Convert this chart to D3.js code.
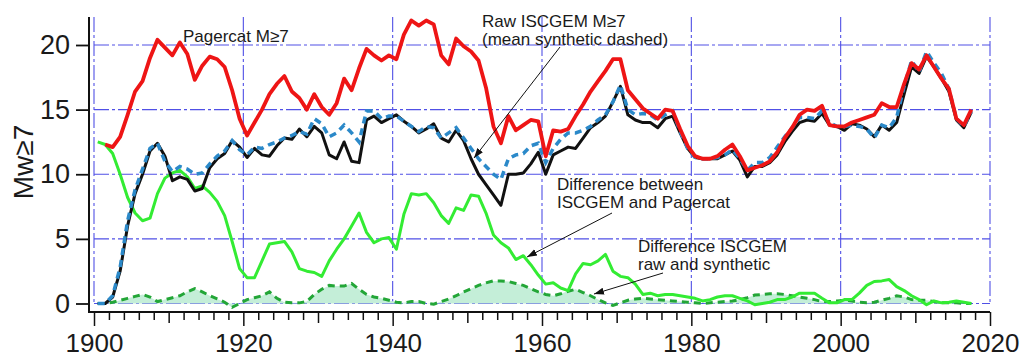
<!DOCTYPE html>
<html>
<head>
<meta charset="utf-8">
<script src="https://d3js.org/d3.v7.min.js"></script>
<style>
  html, body { margin: 0; padding: 0; background: #fff; }
  svg { display: block; font-family: "Liberation Sans", Arial, Helvetica, sans-serif; }
</style>
</head>
<body>
<div id="chart"></div>
<script>
// --------------- Data ---------------
const years = d3.range(1900, 2018);

const pagercat = [
  null, 12.3, 12.1, 12.9, 14.6, 16.4, 17.2, 19.0, 20.4, 19.8,
  19.2, 20.2, 19.3, 17.3, 18.4, 19.1, 18.9, 18.3, 16.5, 14.3,
  13.0, 14.0, 15.0, 16.2, 17.0, 17.6, 16.4, 15.9, 15.0, 16.2,
  15.2, 14.6, 15.5, 17.4, 16.5, 18.2, 19.7, 19.2, 18.8, 19.2,
  18.9, 20.8, 21.9, 21.5, 21.9, 21.6, 19.2, 18.5, 20.5, 19.9,
  19.5, 18.8, 16.7, 13.7, 12.4, 14.5, 13.4, 13.8, 14.2, 14.1,
  11.4, 13.4, 13.3, 13.5, 14.5, 15.4, 16.4, 17.2, 18.0, 18.9,
  18.9, 16.5, 15.8, 15.1, 14.7, 14.3, 15.0, 14.9, 13.5, 12.2,
  11.4, 11.2, 11.2, 11.4, 11.9, 12.3, 11.4, 10.3, 10.5, 10.7,
  11.0, 11.7, 12.8, 13.6, 14.6, 15.0, 14.9, 15.3, 13.8, 13.7,
  13.7, 14.0, 14.2, 14.4, 14.6, 15.5, 15.2, 15.2, 17.0, 18.6,
  18.1, 19.2, 18.3, 17.4, 16.6, 14.3, 13.8, 15.0
];

const iscgemRaw = [
  0.0, 0.0, 0.5, 2.5, 6.0, 8.5, 10.0, 11.8, 12.4, 11.4,
  9.5, 9.8, 9.6, 8.7, 8.9, 10.5, 11.2, 11.6, 12.6, 12.1,
  11.3, 12.0, 11.5, 11.4, 12.2, 12.8, 12.7, 13.5, 12.9, 13.7,
  13.2, 11.5, 11.2, 12.5, 11.0, 10.9, 14.2, 14.5, 14.0, 14.3,
  14.6, 14.1, 13.7, 13.2, 13.5, 13.9, 12.8, 12.5, 13.4, 12.6,
  11.2, 10.0, 9.2, 8.4, 7.6, 10.0, 10.0, 10.1, 10.8, 11.7,
  10.0, 11.5, 11.8, 12.1, 12.0, 12.8, 13.6, 14.0, 14.5, 15.6,
  16.8, 14.6, 14.2, 14.0, 14.0, 13.6, 14.3, 14.5, 13.2, 12.0,
  11.3, 11.2, 11.2, 11.2, 11.5, 11.8, 11.1, 9.8, 10.6, 10.6,
  10.9, 11.5, 12.5, 13.3, 14.0, 14.2, 14.1, 14.7, 13.8, 13.7,
  13.4, 13.9, 13.8, 13.5, 12.9, 13.8, 13.4, 14.0, 16.2, 18.3,
  17.8, 19.1, 18.3, 17.4, 16.4, 14.2, 13.6, 14.8
];

const iscgemSynth = [
  0.0, 0.0, 0.6, 2.8, 6.4, 8.8, 10.4, 12.0, 12.4, 11.0,
  10.2, 10.6, 10.4, 10.0, 10.1, 10.8, 11.4, 11.8, 12.6, 11.9,
  11.5, 12.1, 12.0, 12.3, 12.5, 12.8, 13.0, 13.3, 13.1, 14.3,
  13.9, 12.9, 13.2, 13.8, 13.2, 12.5, 14.9, 14.9, 14.3, 14.5,
  14.5, 14.1, 13.7, 13.3, 13.7, 13.6, 12.8, 13.2, 13.6, 12.8,
  12.0, 11.2, 10.6, 10.0, 9.6, 11.2, 11.5, 11.6, 12.2, 12.4,
  10.9, 12.0, 12.7, 13.2, 13.2, 13.4, 13.7, 14.2, 14.6, 15.6,
  16.9, 15.0, 14.6, 14.7, 14.6, 14.2, 14.6, 14.9, 13.3, 12.0,
  11.3, 11.2, 11.2, 11.3, 11.5, 11.9, 11.2, 10.3, 10.9, 10.9,
  11.3, 12.1, 12.9, 13.6, 14.4, 14.4, 14.3, 14.9, 14.0, 13.7,
  13.7, 13.8, 13.7, 13.5, 12.8, 13.8, 13.6, 14.4, 16.8, 18.8,
  17.9, 19.5, 18.6, 17.8, 16.6, 14.3, 13.7, 14.9
];

const diffPagercat = [
  12.5, 12.3, 11.6, 10.0, 8.2, 7.0, 6.4, 6.6, 8.5, 9.7,
  10.1, 10.3, 9.8, 8.9, 9.1, 8.6, 7.9, 6.8, 4.8, 2.7,
  2.0, 2.0, 3.3, 4.6, 4.7, 4.8, 4.0, 2.7, 2.5, 2.4,
  2.1, 3.3, 4.2, 5.0, 6.0, 7.0, 5.5, 4.7, 5.0, 5.1,
  4.2, 6.9, 8.5, 8.4, 8.5, 7.8, 6.8, 6.2, 7.4, 7.2,
  8.4, 8.3, 7.0, 5.3, 4.7, 4.3, 3.4, 3.7, 3.0, 2.2,
  1.5, 1.6, 1.2, 1.0, 2.3, 3.1, 3.0, 3.3, 3.8, 2.5,
  2.1, 2.0, 1.5, 0.7, 0.8, 0.6, 0.7, 0.7, 0.6, 0.5,
  0.4, 0.2, 0.3, 0.5, 0.6, 0.6, 0.4, 0.2, -0.1, 0.0,
  0.1, 0.3, 0.3, 0.5, 0.8, 0.8, 0.8, 0.4, 0.05, 0.05,
  0.3, 0.3, 0.8, 1.4, 1.7, 1.75, 1.85, 1.3, 1.0, 0.6,
  0.3, -0.1, 0.2, 0.05, 0.1, 0.2, 0.1, 0.0
];

const diffSynth = [
  0.0, 0.0, 0.1, 0.25, 0.4, 0.55, 0.7, 0.5, 0.15, 0.3,
  0.45, 0.6, 0.9, 1.15, 0.9, 0.6, 0.35, 0.1, -0.3, 0.0,
  0.3, 0.45, 0.6, 0.9, 0.4, 0.1, 0.05, 0.05, 0.15, 0.7,
  1.1, 1.4, 1.35, 1.35, 1.55, 1.1, 0.7, 0.5, 0.4, 0.25,
  0.1, 0.05, 0.15, 0.15, 0.0, -0.05, 0.15, 0.35, 0.6, 0.9,
  1.15, 1.4, 1.6, 1.75, 1.75, 1.7, 1.55, 1.4, 1.15, 0.9,
  0.7, 0.6, 0.75, 0.95, 1.1, 0.85, 0.6, 0.3, 0.05, -0.15,
  0.05, 0.25, 0.35, 0.4, 0.35, 0.3, 0.25, 0.2, 0.15, 0.1,
  0.05, 0.0, 0.05, 0.1, 0.15, 0.2, 0.3, 0.45, 0.65, 0.7,
  0.75, 0.75, 0.7, 0.6, 0.5, 0.4, 0.3, 0.15, 0.15, 0.2,
  0.25, 0.2, 0.1, 0.05, 0.1, 0.25, 0.4, 0.6, 0.5, 0.3,
  0.25, 0.25, 0.15, 0.05, 0.05, 0.05, 0.0, 0.0
];

const yTicks = [0, 5, 10, 15, 20];
const xTickLabels = [1900, 1920, 1940, 1960, 1980, 2000, 2020];
const xMinorTicks = d3.range(1900, 2021, 2);

// --------------- Constants ---------------
const WIDTH = 1024;
const HEIGHT = 358;
const AXIS_X = 89;
const AXIS_Y = 312;
const AXIS_TOP = 17;

const RED = "#ee1515";
const BLACK = "#111111";
const BLUE = "#2b89c9";
const LIME = "#33ec33";
const DARK_GREEN = "#23a637";
const FILL_GREEN = "#c4eed8";
const GRID = "#5050e6";

const svg = d3
  .select("#chart")
  .append("svg")
  .attr("width", WIDTH)
  .attr("height", HEIGHT);

const x = d3.scaleLinear().domain([1900, 2020]).range([94, 990]);
const y = d3.scaleLinear().domain([0, 20]).range([303.5, 45]);

// points sit at the middle of each year
const xAt = (i) => x(years[i] + 0.5);

function renderGrid() {
  const g = svg.append("g")
    .attr("stroke", GRID)
    .attr("stroke-width", 1.1)
    .attr("stroke-dasharray", "15,3,3,3");

  g.selectAll("line.h")
    .data(yTicks)
    .enter()
    .append("line")
    .attr("class", "h")
    .attr("x1", x(1900))
    .attr("x2", x(2020))
    .attr("y1", (d) => y(d))
    .attr("y2", (d) => y(d));

  g.selectAll("line.v")
    .data(xTickLabels)
    .enter()
    .append("line")
    .attr("class", "v")
    .attr("x1", (d) => x(d))
    .attr("x2", (d) => x(d))
    .attr("y1", AXIS_TOP)
    .attr("y2", y(0));
}

function renderAxes() {
  // left axis
  const left = svg.append("g")
    .attr("transform", `translate(${AXIS_X},0)`)
    .call(d3.axisLeft(y).tickValues(yTicks).tickSize(13).tickPadding(6));
  left.select(".domain").remove();
  left.selectAll(".tick line").attr("stroke", BLACK).attr("stroke-width", 1.8);
  left.selectAll(".tick text")
    .attr("font-size", 27)
    .attr("fill", "#1a1a1a")
    .attr("font-family", "Liberation Sans, Arial, sans-serif");

  // bottom axis
  const bottom = svg.append("g")
    .attr("transform", `translate(0,${AXIS_Y})`)
    .call(
      d3.axisBottom(x)
        .tickValues(xMinorTicks)
        .tickFormat((d) => (d % 20 === 0 ? d : ""))
    );
  bottom.select(".domain").remove();
  bottom.selectAll(".tick line")
    .attr("stroke", BLACK)
    .attr("stroke-width", 1.5)
    .attr("y2", (d) => (d % 20 === 0 ? 14 : d % 10 === 0 ? 11 : 8));
  bottom.selectAll(".tick text")
    .attr("y", 40)
    .attr("dy", null)
    .attr("font-size", 26)
    .attr("fill", "#1a1a1a")
    .attr("font-family", "Liberation Sans, Arial, sans-serif");

  // axis lines
  svg.append("path")
    .attr("d", `M${AXIS_X},${AXIS_TOP}V${AXIS_Y}H${x(2020)}`)
    .attr("fill", "none")
    .attr("stroke", BLACK)
    .attr("stroke-width", 2);

  svg.append("text")
    .attr("transform", `translate(33,162) rotate(-90)`)
    .attr("text-anchor", "middle")
    .attr("font-size", 28)
    .attr("fill", "#1a1a1a")
    .text("Mw≥7");
}

function renderSeries() {
  const line = d3.line()
    .defined((d) => d != null)
    .x((_d, i) => xAt(i))
    .y((d) => y(d));

  const area = d3.area()
    .x((_d, i) => xAt(i))
    .y0(y(0))
    .y1((d) => y(d));

  svg.append("path")
    .datum(diffSynth)
    .attr("d", area)
    .attr("fill", FILL_GREEN);

  svg.append("path")
    .datum(diffSynth)
    .attr("d", line)
    .attr("fill", "none")
    .attr("stroke", DARK_GREEN)
    .attr("stroke-width", 3)
    .attr("stroke-dasharray", "7,5");

  svg.append("path")
    .datum(diffPagercat)
    .attr("d", line)
    .attr("fill", "none")
    .attr("stroke", LIME)
    .attr("stroke-width", 3)
    .attr("stroke-linejoin", "round");

  svg.append("path")
    .datum(iscgemRaw)
    .attr("d", line)
    .attr("fill", "none")
    .attr("stroke", BLACK)
    .attr("stroke-width", 3)
    .attr("stroke-linejoin", "round");

  svg.append("path")
    .datum(iscgemSynth)
    .attr("d", line)
    .attr("fill", "none")
    .attr("stroke", BLUE)
    .attr("stroke-width", 3.5)
    .attr("stroke-dasharray", "7,5");

  svg.append("path")
    .datum(pagercat)
    .attr("d", line)
    .attr("fill", "none")
    .attr("stroke", RED)
    .attr("stroke-width", 3.8)
    .attr("stroke-linejoin", "round");
}

function renderAnnotations() {
  svg.append("defs")
    .append("marker")
    .attr("id", "arrow")
    .attr("viewBox", "0 0 10 10")
    .attr("refX", 10)
    .attr("refY", 5)
    .attr("markerWidth", 10)
    .attr("markerHeight", 10)
    .attr("markerUnits", "userSpaceOnUse")
    .attr("orient", "auto")
    .append("path")
    .attr("d", "M0,1.5L10,5L0,8.5Z")
    .attr("fill", BLACK);

  const notes = [
    { lines: ["Pagercat M≥7"], x: 183, y: 42 },
    { lines: ["Raw ISCGEM M≥7", "(mean synthetic dashed)"], x: 482, y: 27 },
    { lines: ["Difference between", "ISCGEM and Pagercat"], x: 557, y: 190 },
    { lines: ["Difference ISCGEM", "raw and synthetic"], x: 638, y: 252 },
  ];
  const arrows = [
    [560, 47, 474, 158],
    [612, 213, 527, 257],
    [663, 273, 594, 294],
  ];

  notes.forEach((n) => {
    const t = svg.append("text")
      .attr("x", n.x)
      .attr("y", n.y)
      .attr("font-size", 17)
      .attr("fill", "#1a1a1a");
    n.lines.forEach((l, i) => {
      t.append("tspan").attr("x", n.x).attr("dy", i === 0 ? 0 : 17.5).text(l);
    });
  });

  svg.selectAll("line.arrow")
    .data(arrows)
    .enter()
    .append("line")
    .attr("class", "arrow")
    .attr("x1", (d) => d[0])
    .attr("y1", (d) => d[1])
    .attr("x2", (d) => d[2])
    .attr("y2", (d) => d[3])
    .attr("stroke", BLACK)
    .attr("stroke-width", 1)
    .attr("marker-end", "url(#arrow)");
}

renderGrid();
renderSeries();
renderAxes();
renderAnnotations();
</script>
</body>
</html>
